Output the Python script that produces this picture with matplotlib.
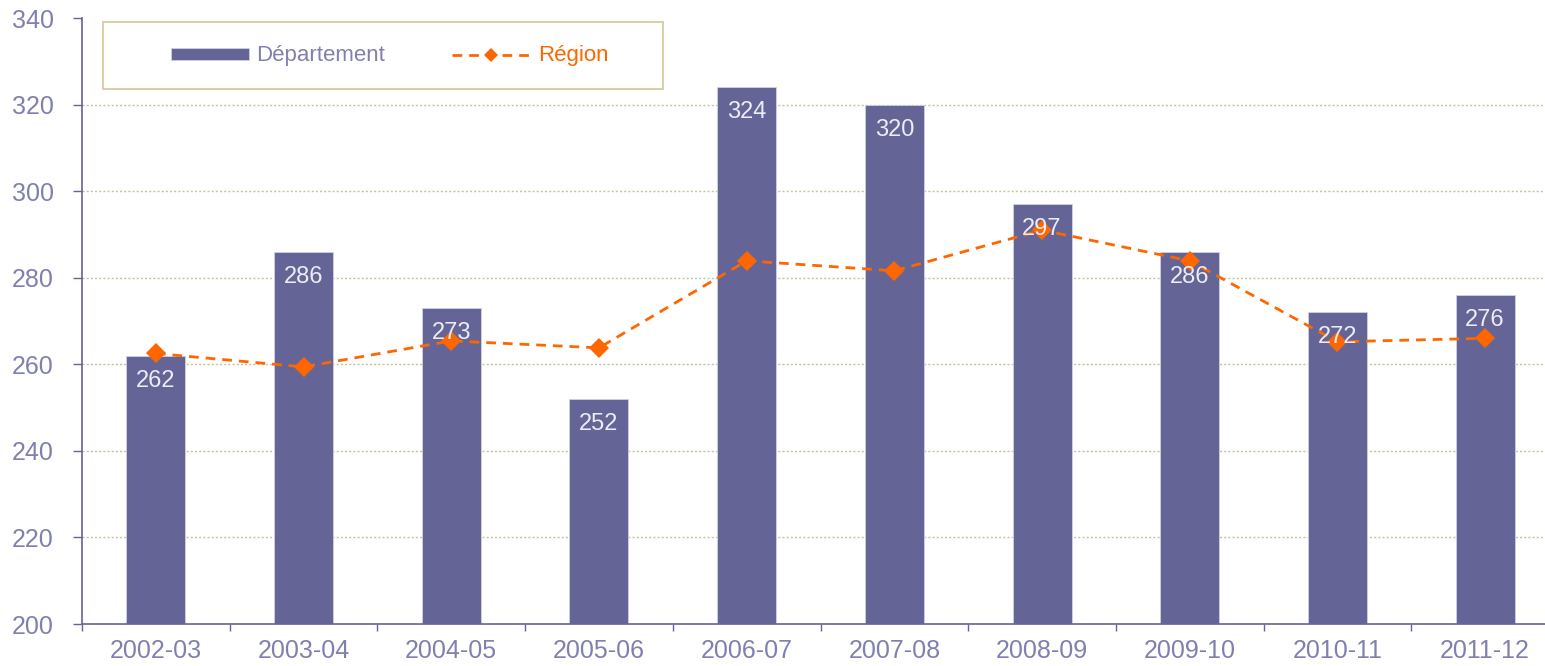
import matplotlib

matplotlib.use("Agg")
import matplotlib.pyplot as plt
import numpy as np
from matplotlib.patches import Rectangle

# values
seasons = ["2002-03", "2003-04", "2004-05", "2005-06", "2006-07",
           "2007-08", "2008-09", "2009-10", "2010-11", "2011-12"]
departement = [262, 286, 273, 252, 324, 320, 297, 286, 272, 276]
region = [262.5, 259.4, 265.4, 263.8, 283.9, 281.6, 291.0, 283.9, 265.2, 266.0]
y_ticks = [200, 220, 240, 260, 280, 300, 320, 340]

BAR = "#646496"
ORANGE = "#ff6600"
TXT = "#8080b0"
GRID = "#c4c49a"

plt.rcParams["font.family"] = ["Liberation Sans", "DejaVu Sans"]

W, H = 1545, 666
fig = plt.figure(figsize=(W / 100, H / 100), dpi=100)
# the category axis runs a little past the right edge in the reference
ax = fig.add_axes([82 / W, 42 / H, 1477 / W, 606 / H])

x = np.arange(len(seasons))
bars = ax.bar(x, [v - 200 for v in departement], bottom=200, width=0.40,
              color=BAR, edgecolor="#d0d0e8", linewidth=0.6,
              label="Département", zorder=2)
line, = ax.plot(x, region, color=ORANGE, linestyle=(0, (3.5, 2.5)), linewidth=2,
                marker="D", markersize=10, markeredgewidth=0, label="Région",
                zorder=3)

for xi, v in zip(x, departement):
    ax.annotate(str(v), (xi, v), xytext=(0, -18), textcoords="offset points",
                ha="center", va="center", fontsize=17, color="#ececf4",
                zorder=4)

ax.set_xlim(-0.5, len(seasons) - 0.5)
ax.set_ylim(200, 340)
ax.set_yticks(y_ticks)
ax.set_yticklabels([str(t) for t in y_ticks], fontsize=18, color=TXT)
ax.set_xticks(x)
ax.set_xticklabels(seasons, fontsize=18, color=TXT)
ax.set_xticks(np.arange(len(seasons) + 1) - 0.5, minor=True)
ax.tick_params(axis="x", which="major", length=0, pad=11)
ax.tick_params(axis="x", which="minor", length=5, color=BAR, width=1)
ax.tick_params(axis="y", length=6.5, color=BAR, width=1, pad=14)

for t in y_ticks[1:-1]:
    ax.axhline(t, color=GRID, linestyle=(0, (1.5, 1.5)), linewidth=1, zorder=1)

for side in ("top", "right"):
    ax.spines[side].set_visible(False)
for side in ("left", "bottom"):
    ax.spines[side].set_color(BAR)
    ax.spines[side].set_linewidth(1.2)

# legend box drawn separately so its size matches the reference
aw, ah = 1477, 606
ax.add_patch(Rectangle((21 / aw, (624 - 89) / ah), 560 / aw, 67 / ah,
                       transform=ax.transAxes, fill=False, edgecolor="#d8d0a8",
                       linewidth=1.4, clip_on=False, zorder=5))
leg = ax.legend([bars, line], ["Département", "Région"], loc="center left",
                bbox_to_anchor=((171 - 82) / aw, (624 - 56) / ah),
                ncol=2, frameon=False, fontsize=16, handlelength=3.5,
                handleheight=0.45, borderpad=0, borderaxespad=0,
                columnspacing=3.0, handletextpad=0.35, markerscale=0.75)
for txt, col in zip(leg.get_texts(), [TXT, ORANGE]):
    txt.set_color(col)

fig.savefig("out.png", dpi=100)
